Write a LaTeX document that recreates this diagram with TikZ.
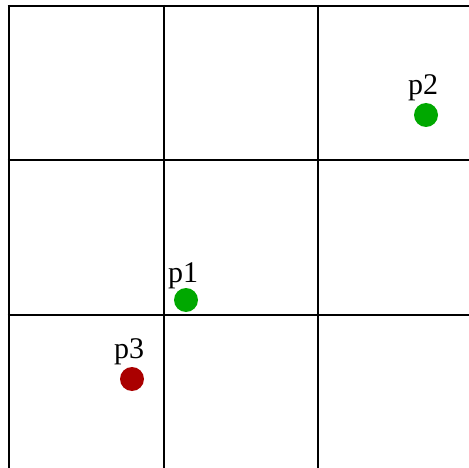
\documentclass[tikz,border=0pt]{standalone}
\usepackage{fontspec}
\setmainfont{Liberation Serif}
\definecolor{dotgreen}{RGB}{0,168,0}
\definecolor{dotred}{RGB}{170,0,0}
\tikzset{
  gridline/.style={line width=2pt, black},
  dot/.style={circle, inner sep=0pt, minimum size=24pt},
  lbl/.style={anchor=base, inner sep=0pt, font=\fontsize{30}{30}\selectfont}
}
\begin{document}
\begin{tikzpicture}[x=1pt,y=-1pt]
  \useasboundingbox (0,0) rectangle (469,468);
  % grid
  \coordinate (v1t) at (8.5,5);   \coordinate (v1b) at (8.5,469);
  \coordinate (v2t) at (163.5,5); \coordinate (v2b) at (163.5,469);
  \coordinate (v3t) at (317.5,5); \coordinate (v3b) at (317.5,469);
  \coordinate (h1l) at (7.5,6);     \coordinate (h1r) at (470,6);
  \coordinate (h2l) at (7.5,160.5); \coordinate (h2r) at (470,160.5);
  \coordinate (h3l) at (7.5,315);   \coordinate (h3r) at (470,315);
  \draw[gridline] (v1t) -- (v1b);
  \draw[gridline] (v2t) -- (v2b);
  \draw[gridline] (v3t) -- (v3b);
  \draw[gridline] (h1l) -- (h1r);
  \draw[gridline] (h2l) -- (h2r);
  \draw[gridline] (h3l) -- (h3r);
  % points
  \node[dot, fill=dotgreen] (p1) at (186,300) {};
  \node[dot, fill=dotgreen] (p2) at (426,115) {};
  \node[dot, fill=dotred]   (p3) at (132,379) {};
  \node[lbl] (l1) at (183,282) {p1};
  \node[lbl] (l2) at (423,95) {p2};
  \node[lbl] (l3) at (129,358) {p3};
\end{tikzpicture}
\end{document}
